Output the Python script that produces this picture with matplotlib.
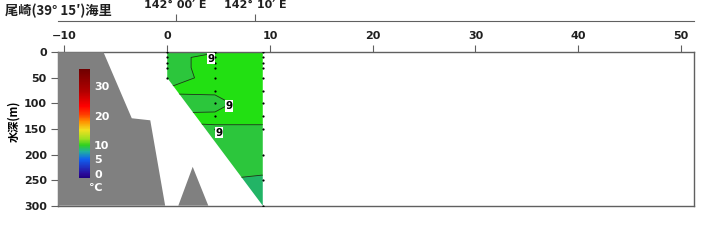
import numpy as np
import matplotlib
matplotlib.use("Agg")
import matplotlib.pyplot as plt
from matplotlib.colors import LinearSegmentedColormap, Normalize
from matplotlib.patches import Polygon
import matplotlib.cm as cm

plt.rcParams['font.family'] = ['DejaVu Sans', 'Noto Sans CJK JP']

# 観測点 (海里) と深度 (m)
stations = [0.0, 4.65, 9.3]
depths = [0, 10, 20, 30, 50, 75, 100, 125, 150, 200, 250, 300]
# 各観測点の最大観測深度
max_depth = [50, 150, 300]

# 水温 (℃)  行=深度, 列=観測点
temp = np.array([
    [8.8, 8.95, 9.3],
    [8.7, 9.3, 9.4],
    [8.7, 9.3, 9.4],
    [8.7, 9.3, 9.4],
    [8.6, 9.3, 9.4],
    [9.1, 9.1, 9.4],
    [8.7, 8.8, 9.4],
    [9.1, 9.1, 9.2],
    [8.9, 8.95, 8.9],
    [8.5, 8.5, 8.4],
    [8.0, 8.0, 7.9],
    [7.7, 7.7, 7.6],
])

# 海底地形 (海里, m)
land1_x = [-11.0, -6.2, -3.45, -1.65, -0.2, -11.0]
land1_d = [0, 0, 129, 133, 300, 300]
land2_x = [1.08, 2.48, 4.0]
land2_d = [300, 224, 300]

levels = [7, 8, 9, 10]
fill_colors = ['#22b466', '#2cc63c', '#22e012']
# 等温線ラベルの位置
label_pos = [(4.3, 13), (6.0, 105), (5.0, 157)]

lon_ticks = [0.83, 8.55]
lon_labels = ["142° 00′ E", "142° 10′ E"]

cb_colors = ['#200080', '#2a0a9a', '#1060f0', '#20b0a0', '#30d020', '#a0e020',
             '#f0e020', '#ff9000', '#ff4000', '#ff0000', '#b00000', '#700000']
cb_pos = [0.0, 0.035, 0.17, 0.24, 0.30, 0.36, 0.44, 0.52, 0.58, 0.66, 0.80, 1.0]

fig = plt.figure(figsize=(7.2, 2.52), dpi=100)
ax = fig.add_axes([58 / 720, 1 - 205.7 / 252, 636.3 / 720, 153.4 / 252])
xmin, xmax = -10.63, 51.3
ax.set_xlim(xmin, xmax)
ax.set_ylim(300, 0)

# 観測範囲の多角形
sec = Polygon([[stations[0], 0], [stations[-1], 0], [stations[-1], max_depth[-1]],
               [stations[0], max_depth[0]]], closed=True, transform=ax.transData,
              facecolor='none', edgecolor='none')
ax.add_patch(sec)

X, Y = np.meshgrid(stations, depths)
cf = ax.contourf(X, Y, temp, levels=levels, colors=fill_colors)
cf.set_clip_path(sec)
cl8 = ax.contour(X, Y, temp, levels=[8], colors='#203020', linewidths=0.6)
cl8.set_clip_path(sec)
cl9 = ax.contour(X, Y, temp, levels=[9], colors='#203020', linewidths=0.6)
cl9.set_clip_path(sec)
lbl = ax.clabel(cl9, fmt='%d', fontsize=7.5, inline=False, manual=label_pos)
for t, p in zip(lbl, label_pos):
    t.set_rotation(0)
    t.set_position(p)
    t.set_fontweight('bold')
    t.set_color('black')
    t.set_zorder(6)
    t.set_bbox(dict(facecolor='white', edgecolor='none', pad=0.4))

# 観測点
for sx, md in zip(stations, max_depth):
    dd = [d for d in depths if d <= md]
    ax.plot([sx] * len(dd), dd, 'o', color='black', ms=1.6, mec='none', zorder=5)

ax.add_patch(Polygon(list(zip(land1_x, land1_d)), closed=True, facecolor='#808080',
                     edgecolor='none', zorder=3))
ax.add_patch(Polygon(list(zip(land2_x, land2_d)), closed=True, facecolor='#808080',
                     edgecolor='none', zorder=3))

for s in ax.spines.values():
    s.set_color('#606060')
    s.set_linewidth(1.0)
ax.xaxis.tick_top()
ax.set_xticks([-10, 0, 10, 20, 30, 40, 50])
ax.set_yticks([0, 50, 100, 150, 200, 250, 300])
ax.tick_params(axis='both', colors='#606060', labelcolor='#202020', length=5,
               width=0.8, labelsize=8, pad=3)
for t in ax.get_xticklabels() + ax.get_yticklabels():
    t.set_fontweight('bold')
ax.set_ylabel("水深(m)", family=['Noto Sans CJK JP', 'DejaVu Sans'], fontsize=8,
              fontweight='bold')
ax.yaxis.set_label_coords(-38 / 636.3, 0.55)

# 経度の軸
ax2 = fig.add_axes([58 / 720, 1 - 21 / 252, 636.3 / 720, 0.0001])
ax2.set_xlim(xmin, xmax)
ax2.set_yticks([])
for k in ['left', 'right', 'bottom']:
    ax2.spines[k].set_visible(False)
ax2.spines['top'].set_color('#606060')
ax2.xaxis.tick_top()
ax2.set_xticks(lon_ticks)
ax2.set_xticklabels(lon_labels)
ax2.tick_params(axis='x', colors='#606060', labelcolor='#202020', length=5,
                width=0.8, labelsize=8, pad=3)
for t in ax2.get_xticklabels():
    t.set_fontweight('bold')
fig.text(5 / 720, 1 - 11 / 252, "尾崎(39° 15′)海里", family=['Noto Sans CJK JP', 'DejaVu Sans'],
         fontsize=9.5, fontweight='bold', va='center', ha='left', color='#202020')

# カラーバー
cmap = LinearSegmentedColormap.from_list('temp', list(zip(cb_pos, cb_colors)))
cax = fig.add_axes([79 / 720, 1 - 177.7 / 252, 11 / 720, 108.4 / 252])
cb = fig.colorbar(cm.ScalarMappable(norm=Normalize(-1.3, 35.9), cmap=cmap), cax=cax)
cb.outline.set_visible(False)
cb.set_ticks([0, 5, 10, 20, 30])
cax.tick_params(length=0, labelsize=8, labelcolor='white', pad=3)
for t in cax.get_yticklabels():
    t.set_fontweight('bold')
fig.text(96 / 720, 1 - 188 / 252, "℃", fontsize=8, color='white', fontweight='bold',
         va='center', ha='center', family=['DejaVu Sans', 'Noto Sans CJK JP'])

fig.savefig("out.png", dpi=100)
